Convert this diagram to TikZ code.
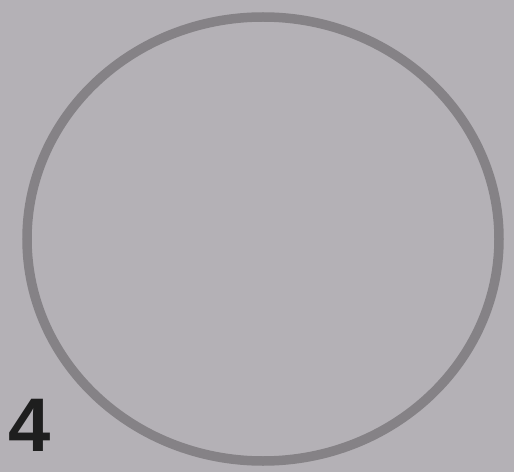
\documentclass[tikz,border=0pt]{standalone}
\usepackage{fontspec}
\setmainfont{Liberation Sans}
\definecolor{bgpaper}{HTML}{B4B1B6}
\definecolor{ringgray}{HTML}{858286}
\definecolor{numink}{HTML}{1E1E1E}
\tikzset{
  ring/.style={draw=ringgray, line width=9.5pt},
  numlabel/.style={inner sep=0pt, text=numink, font=\fontsize{76}{76}\selectfont\bfseries}
}
\begin{document}
\begin{tikzpicture}[x=1pt,y=1pt]
\fill[bgpaper] (0,0) rectangle (514,472);
\useasboundingbox (0,0) rectangle (514,472);
\draw[ring] (263,233) ellipse [x radius=236, y radius=222];
\node[numlabel] (num) at (30,47) {4};
\end{tikzpicture}
\end{document}
